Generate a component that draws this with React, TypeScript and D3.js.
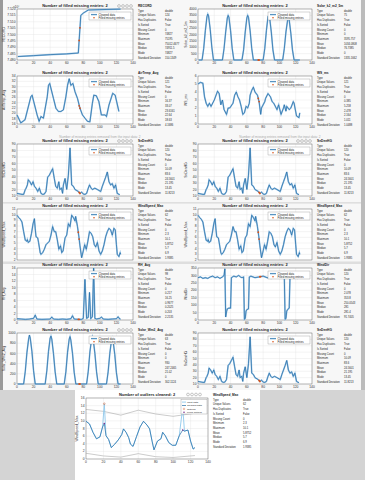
import React from 'react';
import * as d3 from 'd3';

type Pt = [number, number];

const FONT = '"Liberation Sans", Arial, sans-serif';
const BLUE = '#1f6aa5';
const ORANGE = '#d95319';

const xTicks = [0, 20, 40, 60, 80, 100, 120, 140];
const statLabels = ['Type', 'Unique Values', 'Has Duplicates', 'Is Sorted', 'Missing Count', 'Minimum', 'Maximum', 'Mean', 'Median', 'Mode', 'Standard Deviation'];

// RECORD (x 10^4)
const recordPts: Pt[] = [[1, 7.4827], [20, 7.4834], [40, 7.4842], [60, 7.4848], [74, 7.4855], [77, 7.515], [80, 7.5168], [86, 7.5192], [100, 7.5195], [125, 7.5199]];
const recordFill: Pt[] = [[75, 7.4953], [76, 7.5052]];
const recordStats = ['double', '124', 'False', 'True', '0', '74827', '75195', '75012.4677', '74911.5', '74827', '150.1349'];

const solarKjPts: Pt[] = [[1, 0], [5, 0], [7, 900], [9, 2300], [11, 3400], [12, 3600], [13, 3450], [15, 2400], [17, 1000], [19, 0], [30, 0], [32, 900], [34, 2200], [36, 3300], [37, 3500], [38, 3350], [40, 2300], [42, 900], [44, 0], [54, 0], [56, 800], [58, 2200], [60, 3300], [61, 3500], [62, 3350], [64, 2300], [66, 900], [68, 0], [80, 0], [82, 900], [84, 2300], [86, 3400], [87, 3500], [88, 3300], [90, 2200], [92, 800], [94, 0], [104, 0], [106, 900], [108, 2200], [110, 3100], [111, 3300], [112, 3150], [114, 2100], [116, 800], [118, 0], [125, 0]];
const solarKjFill: Pt[] = [[74, 0], [75, 0]];
const solarKjStats = ['double', '75', 'True', 'False', '0', '0', '3595.757', '1034.0808', '76.7385', '0', '1335.1662'];

const airTempPts: Pt[] = [[0, 19.4], [4.6, 16.4], [9.7, 17.6], [16.7, 26.2], [18.2, 26.8], [24.3, 19.4], [26.7, 17.0], [28.9, 18.8], [31.9, 18.2], [36.5, 26.2], [38, 30.5], [39.5, 31.2], [44, 25.6], [47, 21.9], [50, 20.7], [53, 20.7], [56, 21.3], [59, 26.2], [61, 30.5], [63, 33], [65, 30.5], [67.5, 31.2], [70, 28.1], [73, 25.6], [76, 21.9], [79, 19.4], [82, 18.2], [85, 17.0], [88, 16.8], [91, 23.8], [92.7, 26.8], [95.7, 26.6], [98.8, 24.4], [101.8, 19.4], [106.4, 19.4], [108, 18.8], [111, 23.1], [115.5, 27.5], [118.5, 26.8], [123, 20.7]];
const airTempFill: Pt[] = [[75, 22.8], [76, 21.9]];
const airTempStats = ['double', '121', 'True', 'False', '0', '16.37', '33.07', '23.6161', '22.64', '18.63', '4.1686'];

const wsPts: Pt[] = [[0, 5.0], [3, 5.2], [6, 5.1], [8, 3.4], [10, 2.6], [12, 2.2], [14, 2.6], [16, 2.2], [20, 3], [24, 4.1], [26, 3.8], [28, 2.4], [30, 3.0], [32, 1.8], [35, 1.2], [37, 2.0], [39, 2.0], [43, 2.6], [45, 3.6], [47, 4.0], [49, 3.4], [51, 3.0], [53, 2.2], [55, 1.2], [57, 1.4], [59, 2.2], [61, 2], [63, 2.6], [64, 3.6], [66, 4.2], [68, 4.6], [70, 4.0], [73, 3.6], [75, 2.8], [77, 1.2], [78, 2], [82, 2.8], [83, 3.2], [86, 3.8], [89, 3.4], [91, 2.8], [93, 2.6], [97, 1.8], [99, 2.4], [101, 1.6], [102, 1.2], [105, 2.0], [106, 2.4], [108, 1.6], [109, 2.2], [112, 1.8], [114, 2.0], [117, 2.8], [118, 2.6], [121, 1.0], [124, 0.8], [125, 1.4]];
const wsFill: Pt[] = [[74, 3.2], [75, 2.8]];
const wsStats = ['double', '121', 'True', 'False', '0', '0.385', '5.258', '2.478', '2.164', '1.011', '1.0488'];

const snDenPts: Pt[] = [[0, 14], [4, 13], [6, 12.5], [8, 12.5], [10, 20], [11, 22], [12.5, 27], [13.6, 35], [15.5, 32], [17.5, 27], [19.4, 32], [21, 25], [23, 22], [25, 17], [27, 22], [29, 14], [31, 12.5], [33, 13], [35, 17], [37, 39], [39, 42], [41, 47], [43, 52], [45, 37], [46.7, 25], [48.6, 22], [50.5, 32], [51.7, 20], [53.7, 22], [55, 14], [56, 27], [58, 37], [60, 20], [62, 42], [64, 84], [66, 27], [68, 25], [70, 20], [74, 17], [76, 14], [78, 16], [80, 13], [82, 12.5], [84, 14], [86, 22], [87.5, 27], [89.5, 22], [91, 20], [94, 22], [97, 20], [101, 17], [103, 25], [105, 32], [107, 39], [109, 47], [111, 32], [113, 27], [115, 29], [117, 22], [119, 27], [121, 14], [124, 12]];
const snDenFill: Pt[] = [[75, 15.5], [76, 14]];
const snDenStats = ['double', '120', 'True', 'False', '0', '10.09', '83.6', '24.5601', '21.195', '13.45', '11.8213'];

const wsMaxPts: Pt[] = [[0, 9.9], [2, 9.5], [4, 9.2], [6, 8.7], [8, 7.0], [10, 5.5], [12, 5.3], [12.5, 5.6], [13.6, 5.1], [15.5, 5.3], [17.5, 6.7], [19.4, 8.4], [21, 9.3], [22, 7.5], [23, 6.1], [25, 5.9], [26, 5.1], [28, 3.3], [29, 3.0], [31, 3.3], [33, 3.9], [35, 4.7], [37, 5.0], [39, 5.3], [41, 6.4], [43, 7.9], [45, 7.0], [46.7, 7.0], [48.6, 5.6], [50.5, 3.9], [52.5, 4.5], [54, 3.3], [55.6, 3.6], [58, 5.9], [60, 6.4], [62, 8.4], [64, 7.9], [66, 9.9], [68, 9.5], [70, 8.9], [70.8, 9.7], [73, 7.9], [74.7, 6.1], [76, 4.5], [78, 2.4], [80, 3.6], [81.7, 4.7], [83.6, 3.9], [85.5, 5.3], [87.5, 7.0], [89.5, 6.7], [91.4, 6.1], [93.3, 4.7], [95, 4.3], [97, 5.1], [99, 3.6], [101, 3.0], [103, 3.6], [105, 4.7], [107, 6.1], [109, 7.0], [111, 7.6], [113, 7.3], [115, 6.4], [117, 7.6], [118.6, 7.3], [120, 4.7], [121, 3.0], [123, 2.6], [124.5, 3.3], [125, 3.0]];
const wsMaxFill: Pt[] = [[74, 6.9], [75, 5.7]];
const wsMaxStats = ['double', '62', 'True', 'False', '0', '2.3', '10.1', '5.8752', '5.7', '6.9', '1.9385'];

const rhPts: Pt[] = [[0, 0.4], [5, 0.3], [10, 0.2], [15, 0.3], [20, 0.5], [22, 1.5], [24, 0.3], [30, 0.2], [40, 0.3], [42, 0.9], [44, 0.3], [50, 0.2], [55, 0.3], [60, 0.2], [65, 0.4], [67, 1.3], [69, 0.3], [75, 0.2], [78, 0.2], [80, 0.5], [82, 12.5], [84, 0.5], [86, 0.8], [87.5, 8.5], [89, 0.4], [91, 1], [92.5, 16], [94, 0.5], [96, 0.3], [100, 0.5], [102, 0.9], [104, 0.3], [110, 0.2], [115, 0.3], [120, 0.4], [122, 1.0], [124, 0.3], [125, 0.3]];
const rhFill: Pt[] = [[74, 0.2], [75, 0.2]];
const rhStats = ['double', '98', 'True', 'False', '0', '0.217', '16.25', '0.9677', '0.2025', '0.203', '2.2135'];

const windDirPts: Pt[] = [[0, 285], [3, 290], [6, 280], [9, 285], [12, 280], [15, 290], [18, 295], [21, 285], [24, 290], [27, 280], [30, 290], [32, 300], [33, 345], [34, 20], [35, 55], [36, 75], [38, 80], [40, 80], [41, 285], [44, 295], [47, 290], [50, 300], [52, 290], [54, 285], [56, 290], [57, 5], [58, 10], [59, 60], [60, 70], [62, 75], [63, 290], [65, 295], [70, 285], [75, 290], [80, 295], [85, 285], [90, 280], [95, 290], [100, 285], [104, 290], [106, 290], [107, 5], [108, 10], [109, 60], [110, 70], [112, 80], [113, 290], [116, 300], [118, 285], [120, 290], [122, 280], [125, 285]];
const windDirFill: Pt[] = [[76, 291], [77, 292]];
const windDirStats = ['double', '120', 'True', 'False', '0', '2.078', '353.8', '250.0543', '281', '281.4', '91.7405'];

const solarWPts: Pt[] = [[1, 0], [8, 0], [10, 250], [12, 620], [14, 880], [15, 960], [16, 900], [18, 640], [20, 260], [22, 0], [34, 0], [36, 260], [38, 640], [40, 900], [41, 940], [42, 880], [44, 600], [46, 240], [48, 0], [57, 0], [59, 240], [61, 620], [63, 880], [64, 930], [65, 860], [67, 600], [69, 230], [71, 0], [84, 0], [86, 250], [88, 630], [90, 880], [91, 930], [92, 870], [94, 600], [96, 240], [98, 0], [108, 0], [110, 240], [112, 600], [114, 850], [115, 900], [116, 840], [118, 580], [120, 220], [122, 0], [125, 0]];
const solarWFill: Pt[] = [[75, 0], [76, 0]];
const solarWStats = ['double', '63', 'True', 'False', '0', '0', '930', '247.2465', '21.02', '0', '302.1124'];

// outlier chart (WindSpeed_Max)
const outInput: Pt[] = [[0, 9.9], [4, 9.2], [8, 7.0], [12, 5.3], [16, 5.8], [19, 8.4], [21, 14.5], [23, 6.1], [26, 5.1], [29, 3.0], [33, 3.9], [37, 5.0], [41, 6.4], [43, 7.9], [46, 7.0], [49, 5.6], [51, 3.9], [54, 3.3], [58, 5.9], [62, 8.4], [66, 9.9], [70, 8.9], [73, 7.9], [76, 4.5], [78, 2.4], [82, 4.7], [86, 5.3], [88, 7.0], [91, 6.1], [95, 4.3], [99, 3.6], [103, 3.6], [107, 6.1], [111, 13.5], [113, 7.3], [117, 7.6], [120, 4.7], [123, 2.6], [125, 3.0]];
const outClean: Pt[] = [[0, 9.9], [4, 9.2], [8, 7.0], [12, 5.3], [16, 5.8], [19, 8.4], [21, 9.3], [23, 6.1], [26, 5.1], [29, 3.0], [33, 3.9], [37, 5.0], [41, 6.4], [43, 7.9], [46, 7.0], [49, 5.6], [51, 3.9], [54, 3.3], [58, 5.9], [62, 8.4], [66, 9.9], [70, 8.9], [73, 7.9], [76, 4.5], [78, 2.4], [82, 4.7], [86, 5.3], [88, 7.0], [91, 6.1], [95, 4.3], [99, 3.6], [103, 3.6], [107, 6.1], [111, 7.6], [113, 7.3], [117, 7.6], [120, 4.7], [123, 2.6], [125, 3.0]];
const outUpper: Pt[] = [[0, 13], [20, 12.5], [40, 11.5], [60, 12.8], [80, 11.8], [100, 11.2], [125, 12]];
const outLower: Pt[] = [[0, 1.5], [20, 0.8], [40, 0.5], [60, 1.4], [80, 0.6], [100, 0.4], [125, 0.9]];
const outOutliers: Pt[] = [[21, 14.5], [111, 13.5]];
const outFilled: Pt[] = [[21, 9.3], [111, 7.6]];

interface PlotProps {
  x0: number; x1: number; y0: number; y1: number;
  yDomain: [number, number]; yTicks: number[]; yFmt?: (v: number) => string;
  data: Pt[]; filled: Pt[];
  title: string; yLabel: string; yLabelX: number;
  exponent?: string; icons?: boolean; noXLabels?: boolean;
  table: { x: number; vx: number; name: string; values: string[] };
}

const Icons = ({ x, y }: { x: number; y: number }) => (
  <g fill="none" stroke="#777" strokeWidth={0.4}>
    {[0, 4, 8, 12].map(d => <circle key={d} cx={x + d} cy={y} r={1.4} />)}
  </g>
);

const Table = ({ x, vx, y, name, values }: { x: number; vx: number; y: number; name: string; values: string[] }) => (
  <g fontSize={2.7} fill="#222">
    <text x={x} y={y} fontWeight="bold" fontSize={3.2}>{name}</text>
    {statLabels.map((l, i) => (
      <g key={l}>
        <text x={x} y={y + 4.7 * (i + 1)}>{l}</text>
        <text x={vx} y={y + 4.7 * (i + 1)}>{values[i]}</text>
      </g>
    ))}
  </g>
);

const Plot = (p: PlotProps) => {
  const xs = d3.scaleLinear().domain([0, 140]).range([p.x0, p.x1]);
  const ys = d3.scaleLinear().domain(p.yDomain).range([p.y1, p.y0]);
  const line = d3.line<Pt>().x(d => xs(d[0])).y(d => ys(d[1]));
  const fmt = p.yFmt || ((v: number) => String(v));
  const lx = p.x1 - 44, ly = p.y0 + 3;
  return (
    <g>
      <rect x={p.x0} y={p.y0} width={p.x1 - p.x0} height={p.y1 - p.y0} fill="#fff" />
      {xTicks.map(t => <line key={'gx' + t} x1={xs(t)} x2={xs(t)} y1={p.y0} y2={p.y1} stroke="#e4e4e4" strokeWidth={0.4} />)}
      {p.yTicks.map(t => <line key={'gy' + t} x1={p.x0} x2={p.x1} y1={ys(t)} y2={ys(t)} stroke="#e4e4e4" strokeWidth={0.4} />)}
      <rect x={p.x0} y={p.y0} width={p.x1 - p.x0} height={p.y1 - p.y0} fill="none" stroke="#555" strokeWidth={0.4} />
      {!p.noXLabels && xTicks.map(t => <text key={'tx' + t} x={xs(t)} y={p.y1 + 4} fontSize={3.3} textAnchor="middle" fill="#333">{t}</text>)}
      {p.yTicks.map(t => <text key={'ty' + t} x={p.x0 - 1.5} y={ys(t) + 1.1} fontSize={3.3} textAnchor="end" fill="#333">{fmt(t)}</text>)}
      {p.exponent && <text x={p.x0 - 4} y={p.y0 - 1.5} fontSize={3} fill="#333">{p.exponent}</text>}
      <text transform={`translate(${p.yLabelX},${(p.y0 + p.y1) / 2}) rotate(-90)`} fontSize={3.4} textAnchor="middle" fill="#333">{p.yLabel}</text>
      <text x={(p.x0 + p.x1) / 2} y={p.y0 - 1.8} fontSize={4} fontWeight="bold" textAnchor="middle" fill="#222">{p.title}</text>
      {p.icons && <Icons x={p.x1 - 14} y={p.y0 - 3} />}
      <path d={line(p.data) || ''} fill="none" stroke="#9cc4e4" strokeWidth={1.6} />
      <path d={line(p.data) || ''} fill="none" stroke={BLUE} strokeWidth={0.7} />
      {p.filled.map((d, i) => <circle key={i} cx={xs(d[0])} cy={ys(d[1])} r={0.9} fill={ORANGE} />)}
      <rect x={lx} y={ly} width={42} height={8} fill="#fff" stroke="#888" strokeWidth={0.35} />
      <line x1={lx + 2} x2={lx + 8} y1={ly + 2.6} y2={ly + 2.6} stroke="#9cc4e4" strokeWidth={1.4} />
      <line x1={lx + 2} x2={lx + 8} y1={ly + 2.6} y2={ly + 2.6} stroke={BLUE} strokeWidth={0.6} />
      <text x={lx + 9.5} y={ly + 3.6} fontSize={2.8} fill="#222">Cleaned data</text>
      <circle cx={lx + 5} cy={ly + 5.8} r={0.8} fill={ORANGE} />
      <text x={lx + 9.5} y={ly + 6.8} fontSize={2.8} fill="#222">Filled missing entries</text>
      <Table x={p.table.x} vx={p.table.vx} y={p.y0 - 2} name={p.table.name} values={p.table.values} />
    </g>
  );
};

const TITLE = 'Number of filled missing entries: 2';
const rows = [
  { y0: 9, y1: 60 },
  { y0: 76, y1: 124 },
  { y0: 144, y1: 196 },
  { y0: 209, y1: 260 },
  { y0: 268, y1: 320 },
  { y0: 333, y1: 384 },
];
const L = { x0: 17, x1: 133, yLabelX: 5, table: { x: 138, vx: 165 } };
const R = { x0: 198, x1: 312, yLabelX: 187, table: { x: 317, vx: 344 } };

const OutlierPlot = () => {
  const x0 = 86, x1 = 208, y0 = 398, y1 = 459;
  const xs = d3.scaleLinear().domain([0, 140]).range([x0, x1]);
  const ys = d3.scaleLinear().domain([0, 16]).range([y1, y0]);
  const line = d3.line<Pt>().x(d => xs(d[0])).y(d => ys(d[1]));
  const yT = [0, 2, 4, 6, 8, 10, 12, 14, 16];
  const lx = x1 - 27, ly = y0 + 1.5;
  const leg = ['Input data', 'Cleaned data', 'Outliers', 'Filled outliers'];
  return (
    <g>
      <rect x={75} y={390} width={185} height={90} fill="#fff" />
      <rect x={x0} y={y0} width={x1 - x0} height={y1 - y0} fill="#fff" />
      {xTicks.map(t => <line key={'gx' + t} x1={xs(t)} x2={xs(t)} y1={y0} y2={y1} stroke="#e4e4e4" strokeWidth={0.4} />)}
      {yT.map(t => <line key={'gy' + t} x1={x0} x2={x1} y1={ys(t)} y2={ys(t)} stroke="#e4e4e4" strokeWidth={0.4} />)}
      <rect x={x0} y={y0} width={x1 - x0} height={y1 - y0} fill="none" stroke="#555" strokeWidth={0.4} />
      {yT.map(t => <text key={'ty' + t} x={x0 - 1.5} y={ys(t) + 1.1} fontSize={3.3} textAnchor="end" fill="#333">{t}</text>)}
      {xTicks.map(t => <text key={'tx' + t} x={xs(t)} y={y1 + 4} fontSize={3.3} textAnchor="middle" fill="#333">{t}</text>)}
      <text transform={`translate(${x0 - 8},${(y0 + y1) / 2}) rotate(-90)`} fontSize={3.4} textAnchor="middle" fill="#333">WindSpeed_Max</text>
      <text x={(x0 + x1) / 2} y={y0 - 2} fontSize={4} fontWeight="bold" textAnchor="middle" fill="#222">Number of outliers cleaned: 2</text>
      <Icons x={x1 - 20} y={y0 - 3.5} />
      <path d={line(outUpper) || ''} fill="none" stroke="#999" strokeWidth={0.5} />
      <path d={line(outLower) || ''} fill="none" stroke="#999" strokeWidth={0.5} />
      <path d={line(outInput) || ''} fill="none" stroke="#8fc8ec" strokeWidth={0.9} />
      <path d={line(outClean) || ''} fill="none" stroke={BLUE} strokeWidth={0.7} />
      {outOutliers.map((d, i) => <circle key={'o' + i} cx={xs(d[0])} cy={ys(d[1])} r={0.9} fill="none" stroke={ORANGE} strokeWidth={0.4} />)}
      {outFilled.map((d, i) => <circle key={'f' + i} cx={xs(d[0])} cy={ys(d[1])} r={0.8} fill="#7e2f8e" />)}
      <rect x={lx} y={ly} width={26} height={14.5} fill="#fff" stroke="#888" strokeWidth={0.35} />
      {leg.map((t, i) => <text key={t} x={lx + 6} y={ly + 3.4 + i * 3.4} fontSize={2.5} fill="#222">{t}</text>)}
      <line x1={lx + 1} x2={lx + 5} y1={ly + 2.6} y2={ly + 2.6} stroke="#8fc8ec" strokeWidth={0.9} />
      <line x1={lx + 1} x2={lx + 5} y1={ly + 6} y2={ly + 6} stroke={BLUE} strokeWidth={0.7} />
      <circle cx={lx + 3} cy={ly + 9.4} r={0.8} fill="none" stroke={ORANGE} strokeWidth={0.4} />
      <circle cx={lx + 3} cy={ly + 12.8} r={0.8} fill="#7e2f8e" />
      <Table x={213} vx={243} y={396} name="WindSpeed_Max" values={wsMaxStats} />
    </g>
  );
};

export default function App() {
  const dec = (n: number) => (v: number) => v.toFixed(n);
  return (
    <div style={{ position: 'fixed', left: 0, top: 0 }}>
      <svg width={365} height={480} style={{ display: 'block', fontFamily: FONT }}>
        <rect width={365} height={480} fill="#d4d4d4" />
        <rect x={3} y={0} width={358} height={390} fill="#f7f7f7" />
        <rect x={0} y={0} width={3} height={390} fill="#9a9a9a" />
        <rect x={361} y={0} width={4} height={390} fill="#bcbcbc" />
        <text x={100} y={138} fontSize={3.2} fill="#aaa" textAnchor="middle">Number of missing entries removed from the input data: 2</text>
        <text x={280} y={138} fontSize={3.2} fill="#aaa" textAnchor="middle">Number of missing entries removed from the input data: 2</text>
        <rect x={3} y={202.5} width={358} height={0.8} fill="#c8c8c8" />
        <rect x={3} y={261.5} width={358} height={2.5} fill="#dedede" />
        <Plot {...L} {...rows[0]} table={{ ...L.table, name: 'RECORD', values: recordStats }} title={TITLE} yLabel="RECORD" exponent="×10⁴" icons
          yDomain={[7.48, 7.52]} yTicks={d3.range(7.48, 7.5201, 0.005)} yFmt={dec(3)} data={recordPts} filled={recordFill} />
        <Plot {...R} {...rows[0]} table={{ ...R.table, name: 'Solar_kJ_m2_5m', values: solarKjStats }} title={TITLE} yLabel="Solar_kJ_m2_5m"
          yDomain={[0, 4000]} yTicks={d3.range(0, 4001, 500)} data={solarKjPts} filled={solarKjFill} />
        <Plot {...L} {...rows[1]} table={{ ...L.table, name: 'AirTemp_Avg', values: airTempStats }} title={TITLE} yLabel="AirTemp_Avg"
          yDomain={[16, 34]} yTicks={d3.range(16, 35, 2)} data={airTempPts} filled={airTempFill} />
        <Plot {...R} {...rows[1]} table={{ ...R.table, name: 'WS_ms', values: wsStats }} title={TITLE} yLabel="WS_ms"
          yDomain={[0, 6]} yTicks={d3.range(0, 7, 1)} data={wsPts} filled={wsFill} />
        <Plot {...L} {...rows[2]} table={{ ...L.table, name: 'SnDenHG', values: snDenStats }} title={TITLE} yLabel="SnDenHG" icons
          yDomain={[10, 90]} yTicks={d3.range(10, 91, 10)} data={snDenPts} filled={snDenFill} />
        <Plot {...R} {...rows[2]} table={{ ...R.table, name: 'SnDenHG', values: snDenStats }} title={TITLE} yLabel="SnDenHG" icons
          yDomain={[10, 90]} yTicks={d3.range(10, 91, 10)} data={snDenPts} filled={snDenFill} />
        <Plot {...L} {...rows[3]} noXLabels table={{ ...L.table, name: 'WindSpeed_Max', values: wsMaxStats }} title={TITLE} yLabel="WindSpeed_Max"
          yDomain={[2, 11]} yTicks={d3.range(2, 12, 1)} data={wsMaxPts} filled={wsMaxFill} />
        <Plot {...R} {...rows[3]} noXLabels table={{ ...R.table, name: 'WindSpeed_Max', values: wsMaxStats }} title={TITLE} yLabel="WindSpeed_Max"
          yDomain={[2, 11]} yTicks={d3.range(2, 12, 1)} data={wsMaxPts} filled={wsMaxFill} />
        <Plot {...L} {...rows[4]} table={{ ...L.table, name: 'RH_Avg', values: rhStats }} title={TITLE} yLabel="RH_Avg"
          yDomain={[0, 16]} yTicks={d3.range(0, 17, 2)} data={rhPts} filled={rhFill} />
        <Plot {...R} {...rows[4]} table={{ ...R.table, name: 'WindDir', values: windDirStats }} title={TITLE} yLabel="WindDir"
          yDomain={[0, 350]} yTicks={d3.range(0, 351, 50)} data={windDirPts} filled={windDirFill} />
        <Plot {...L} {...rows[5]} table={{ ...L.table, name: 'Solar_Wm2_Avg', values: solarWStats }} title={TITLE} yLabel="Solar_Wm2_Avg" icons
          yDomain={[0, 1000]} yTicks={d3.range(0, 1001, 200)} data={solarWPts} filled={solarWFill} />
        <Plot {...R} {...rows[5]} table={{ ...R.table, name: 'SnDenHG', values: snDenStats }} title={TITLE} yLabel="SnDenHG"
          yDomain={[10, 90]} yTicks={d3.range(10, 91, 10)} data={snDenPts} filled={snDenFill} />
        <OutlierPlot />
      </svg>
    </div>
  );
}
